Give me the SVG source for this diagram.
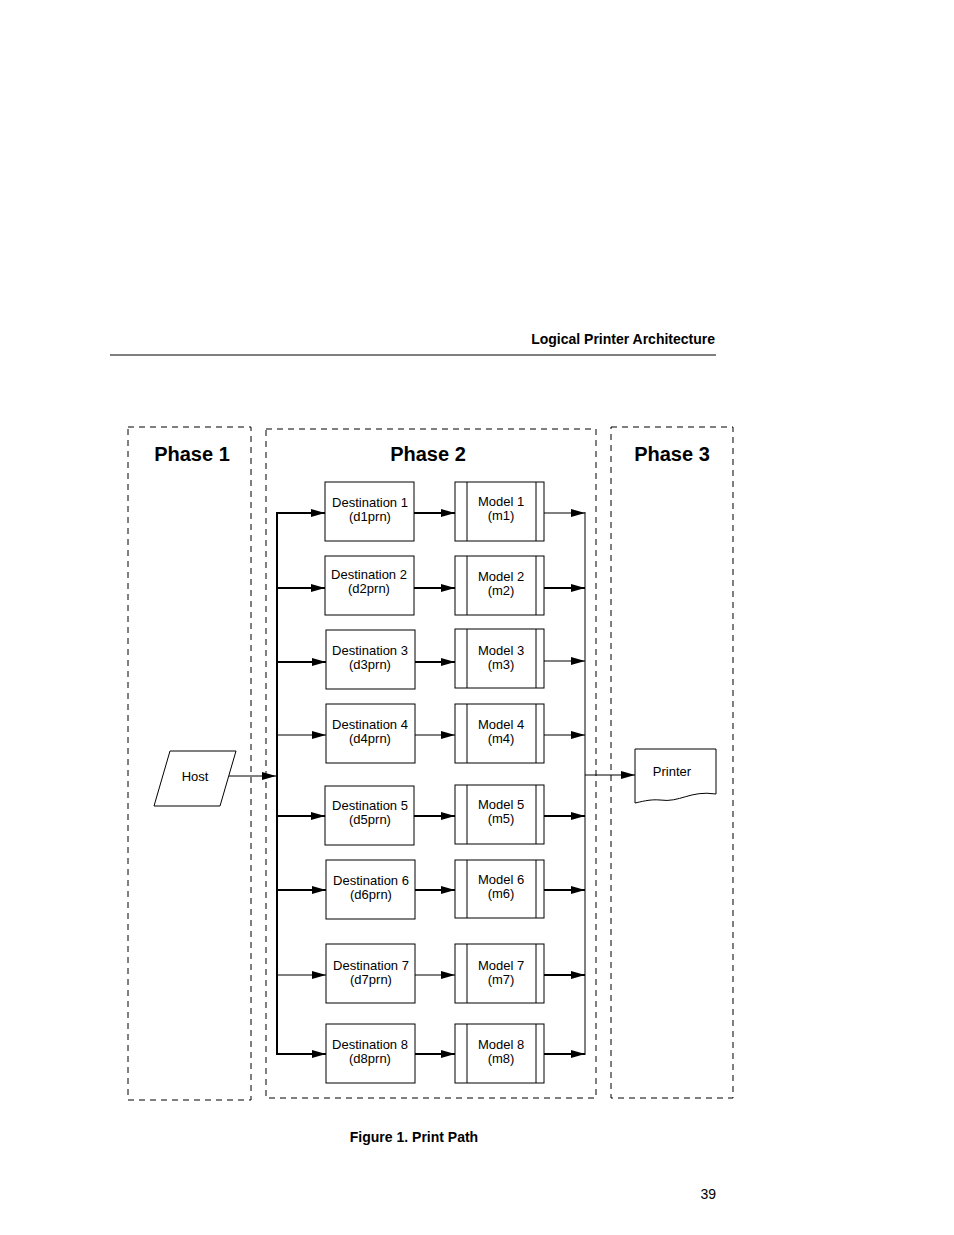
<svg xmlns="http://www.w3.org/2000/svg" width="954" height="1235" viewBox="0 0 954 1235">
<style>
text{font-family:"Liberation Sans",Arial,sans-serif;fill:#000}
.t{font-size:13px;text-anchor:middle}
.ph{font-size:20px;font-weight:bold;text-anchor:middle}
.b{fill:#fff;stroke:#000;stroke-width:1}
.d{fill:none;stroke:#000;stroke-width:1;stroke-dasharray:6,5}
.c{stroke:#000;stroke-width:2;fill:none}
.c1{stroke:#000;stroke-width:1;fill:none}
</style>
<defs><marker id="a" markerWidth="14" markerHeight="8" refX="14" refY="4" orient="auto" markerUnits="userSpaceOnUse"><path d="M0,0L14,4L0,8z" fill="#000"/></marker></defs>
<rect width="954" height="1235" fill="#fff"/>
<text x="715" y="344" style="font-size:14px;font-weight:bold;text-anchor:end">Logical Printer Architecture</text>
<line x1="110" y1="355" x2="716" y2="355" stroke="#000"/>
<rect class="d" x="128" y="427" width="123" height="673"/>
<rect class="d" x="266" y="429" width="330" height="669"/>
<rect class="d" x="611" y="427" width="122" height="671"/>
<text class="ph" x="192" y="461">Phase 1</text>
<text class="ph" x="428" y="461">Phase 2</text>
<text class="ph" x="672" y="461">Phase 3</text>
<g id="connectors">
<line class="c" x1="277" y1="512" x2="277" y2="1055"/>
<line class="c1" x1="585" y1="512" x2="585" y2="1055"/>
<line class="c1" x1="229" y1="776" x2="276" y2="776" marker-end="url(#a)"/>
<line class="c1" x1="585" y1="775" x2="635" y2="775" marker-end="url(#a)"/>
<g id="arrows"></g>
</g>
<g id="host"><polygon class="b" points="170,751 236,751 220,806 154,806"/><text class="t" x="195" y="781">Host</text></g>
<g id="printer"><path class="b" d="M635,749H716V794C690,790 680,803 660,800C650,799 640,802 635,803Z"/><text class="t" x="672" y="776">Printer</text></g>
<g id="rows">
<g id="row1"><line class="c" x1="277" y1="513" x2="325" y2="513" marker-end="url(#a)"/><rect class="b" x="325" y="482" width="89" height="59"/><text class="t" x="370" y="507">Destination 1</text><text class="t" x="370" y="521">(d1prn)</text><line class="c" x1="414" y1="513" x2="455" y2="513" marker-end="url(#a)"/><rect class="b" x="455" y="482" width="89" height="59"/><line class="c1" x1="467" y1="482" x2="467" y2="541"/><line class="c1" x1="536" y1="482" x2="536" y2="541"/><text class="t" x="501" y="506">Model 1</text><text class="t" x="501" y="520">(m1)</text><line class="c1" x1="544" y1="513" x2="585" y2="513" marker-end="url(#a)"/></g>
<g id="row2"><line class="c" x1="277" y1="588" x2="325" y2="588" marker-end="url(#a)"/><rect class="b" x="325" y="556" width="89" height="59"/><text class="t" x="369" y="579">Destination 2</text><text class="t" x="369" y="593">(d2prn)</text><line class="c" x1="414" y1="588" x2="455" y2="588" marker-end="url(#a)"/><rect class="b" x="455" y="556" width="89" height="59"/><line class="c1" x1="467" y1="556" x2="467" y2="615"/><line class="c1" x1="536" y1="556" x2="536" y2="615"/><text class="t" x="501" y="581">Model 2</text><text class="t" x="501" y="595">(m2)</text><line class="c" x1="544" y1="588" x2="585" y2="588" marker-end="url(#a)"/></g>
<g id="row3"><line class="c" x1="277" y1="662" x2="326" y2="662" marker-end="url(#a)"/><rect class="b" x="326" y="630" width="89" height="59"/><text class="t" x="370" y="655">Destination 3</text><text class="t" x="370" y="669">(d3prn)</text><line class="c" x1="415" y1="662" x2="455" y2="662" marker-end="url(#a)"/><rect class="b" x="455" y="629" width="89" height="59"/><line class="c1" x1="467" y1="629" x2="467" y2="688"/><line class="c1" x1="536" y1="629" x2="536" y2="688"/><text class="t" x="501" y="655">Model 3</text><text class="t" x="501" y="669">(m3)</text><line class="c1" x1="544" y1="661" x2="585" y2="661" marker-end="url(#a)"/></g>
<g id="row4"><line class="c1" x1="277" y1="735" x2="326" y2="735" marker-end="url(#a)"/><rect class="b" x="326" y="704" width="89" height="59"/><text class="t" x="370" y="729">Destination 4</text><text class="t" x="370" y="743">(d4prn)</text><line class="c1" x1="415" y1="735" x2="455" y2="735" marker-end="url(#a)"/><rect class="b" x="455" y="704" width="89" height="59"/><line class="c1" x1="467" y1="704" x2="467" y2="763"/><line class="c1" x1="536" y1="704" x2="536" y2="763"/><text class="t" x="501" y="729">Model 4</text><text class="t" x="501" y="743">(m4)</text><line class="c1" x1="544" y1="735" x2="585" y2="735" marker-end="url(#a)"/></g>
<g id="row5"><line class="c" x1="277" y1="816" x2="325" y2="816" marker-end="url(#a)"/><rect class="b" x="325" y="786" width="89" height="59"/><text class="t" x="370" y="810">Destination 5</text><text class="t" x="370" y="824">(d5prn)</text><line class="c" x1="414" y1="816" x2="455" y2="816" marker-end="url(#a)"/><rect class="b" x="455" y="785" width="89" height="59"/><line class="c1" x1="467" y1="785" x2="467" y2="844"/><line class="c1" x1="536" y1="785" x2="536" y2="844"/><text class="t" x="501" y="809">Model 5</text><text class="t" x="501" y="823">(m5)</text><line class="c" x1="544" y1="816" x2="585" y2="816" marker-end="url(#a)"/></g>
<g id="row6"><line class="c" x1="277" y1="890" x2="326" y2="890" marker-end="url(#a)"/><rect class="b" x="326" y="860" width="89" height="59"/><text class="t" x="371" y="885">Destination 6</text><text class="t" x="371" y="899">(d6prn)</text><line class="c" x1="415" y1="890" x2="455" y2="890" marker-end="url(#a)"/><rect class="b" x="455" y="860" width="89" height="58"/><line class="c1" x1="467" y1="860" x2="467" y2="918"/><line class="c1" x1="536" y1="860" x2="536" y2="918"/><text class="t" x="501" y="884">Model 6</text><text class="t" x="501" y="898">(m6)</text><line class="c" x1="544" y1="890" x2="585" y2="890" marker-end="url(#a)"/></g>
<g id="row7"><line class="c1" x1="277" y1="975" x2="326" y2="975" marker-end="url(#a)"/><rect class="b" x="326" y="944" width="89" height="59"/><text class="t" x="371" y="970">Destination 7</text><text class="t" x="371" y="984">(d7prn)</text><line class="c1" x1="415" y1="975" x2="455" y2="975" marker-end="url(#a)"/><rect class="b" x="455" y="944" width="89" height="59"/><line class="c1" x1="467" y1="944" x2="467" y2="1003"/><line class="c1" x1="536" y1="944" x2="536" y2="1003"/><text class="t" x="501" y="970">Model 7</text><text class="t" x="501" y="984">(m7)</text><line class="c" x1="544" y1="975" x2="585" y2="975" marker-end="url(#a)"/></g>
<g id="row8"><line class="c" x1="277" y1="1054" x2="326" y2="1054" marker-end="url(#a)"/><rect class="b" x="326" y="1024" width="89" height="59"/><text class="t" x="370" y="1049">Destination 8</text><text class="t" x="370" y="1063">(d8prn)</text><line class="c" x1="415" y1="1054" x2="455" y2="1054" marker-end="url(#a)"/><rect class="b" x="455" y="1024" width="89" height="59"/><line class="c1" x1="467" y1="1024" x2="467" y2="1083"/><line class="c1" x1="536" y1="1024" x2="536" y2="1083"/><text class="t" x="501" y="1049">Model 8</text><text class="t" x="501" y="1063">(m8)</text><line class="c" x1="544" y1="1054" x2="585" y2="1054" marker-end="url(#a)"/></g>
</g>
<text x="414" y="1142" style="font-size:14px;font-weight:bold;text-anchor:middle">Figure 1. Print Path</text>
<text x="716" y="1199" style="font-size:14px;text-anchor:end">39</text>
</svg>
